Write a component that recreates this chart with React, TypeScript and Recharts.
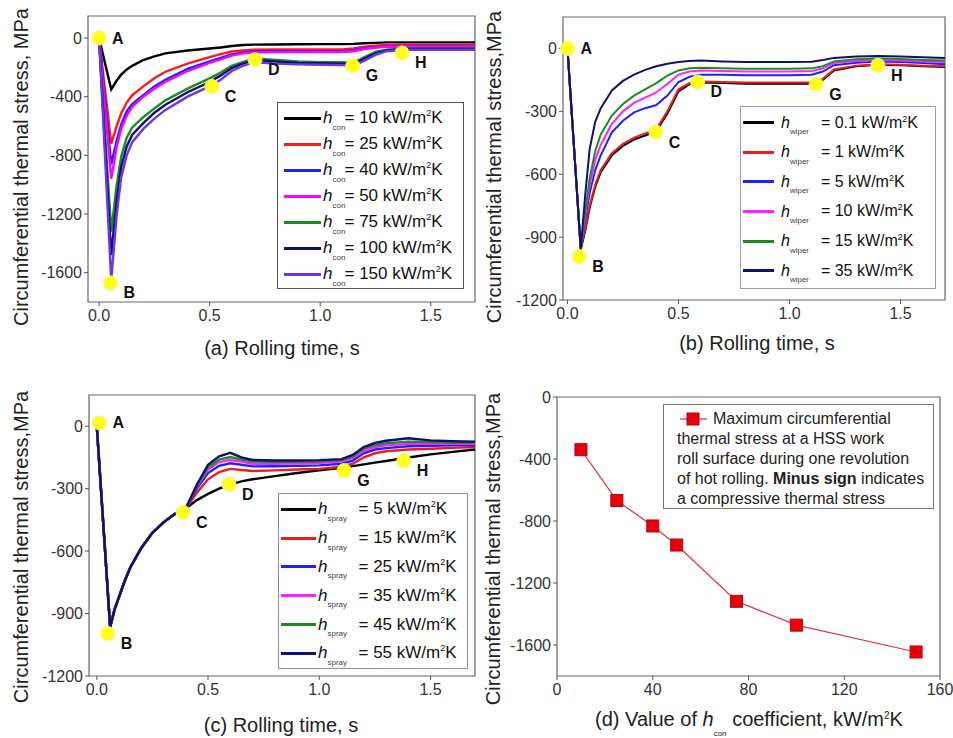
import React from "react";
import { ComposedChart, Line, XAxis, YAxis, ReferenceArea, ReferenceDot } from "recharts";

const FONT = "'Liberation Sans', Arial, Helvetica, sans-serif";

// ---- (a) effect of the convection coefficient h_con ----
const timesA = [0, 0.055, 0.08, 0.1, 0.125, 0.15, 0.2, 0.25, 0.3, 0.4, 0.5, 0.55, 0.6, 0.65, 0.7, 0.8, 0.9, 1.0, 1.1, 1.15, 1.2, 1.25, 1.3, 1.4, 1.5, 1.6, 1.7];
const hConLabels = ["10", "25", "40", "50", "75", "100", "150"];
const con10 = [0, -350, -290, -250, -215, -190, -150, -125, -105, -85, -72, -65, -55, -48, -45, -44, -43, -42, -42, -40, -36, -33, -30, -30, -30, -30, -30];
const con25 = [0, -720, -600, -515, -440, -390, -330, -275, -230, -175, -130, -110, -92, -85, -80, -78, -78, -78, -78, -72, -60, -52, -48, -45, -45, -45, -45];
const con40 = [0, -860, -700, -590, -500, -450, -390, -330, -285, -210, -160, -135, -112, -100, -92, -90, -90, -90, -90, -85, -70, -62, -58, -55, -55, -55, -55];
const con50 = [0, -960, -740, -620, -530, -470, -400, -345, -300, -225, -170, -145, -120, -105, -98, -95, -95, -95, -95, -90, -75, -65, -60, -58, -58, -58, -58];
const con75 = [0, -1320, -1000, -810, -680, -610, -540, -480, -425, -345, -275, -235, -190, -165, -140, -150, -160, -165, -165, -170, -130, -95, -80, -70, -70, -70, -70];
const con100 = [0, -1480, -1100, -880, -740, -660, -580, -510, -455, -370, -300, -255, -205, -175, -150, -160, -170, -172, -175, -180, -140, -105, -85, -75, -75, -75, -75];
const con150 = [0, -1650, -1200, -950, -800, -710, -620, -550, -490, -400, -330, -285, -225, -190, -165, -175, -180, -182, -185, -190, -155, -115, -90, -80, -80, -80, -80];
const pointsA = [
  { name: "A", t: 0, v: 0 },
  { name: "B", t: 0.052, v: -1670 },
  { name: "C", t: 0.51, v: -330 },
  { name: "D", t: 0.705, v: -148 },
  { name: "G", t: 1.147, v: -190 },
  { name: "H", t: 1.37, v: -102 },
];

// ---- (b) effect of the wiper coefficient h_wiper ----
const timesB = [0, 0.06, 0.08, 0.1, 0.125, 0.15, 0.2, 0.25, 0.3, 0.35, 0.4, 0.45, 0.5, 0.55, 0.6, 0.7, 0.8, 0.9, 1.0, 1.1, 1.15, 1.2, 1.3, 1.4, 1.5, 1.6, 1.7];
const hWiperLabels = ["0.1", "1", "5", "10", "15", "35"];
const wiper01 = [0, -960, -870, -760, -660, -590, -510, -465, -435, -415, -395, -310, -205, -170, -162, -165, -168, -168, -168, -168, -150, -105, -85, -78, -80, -85, -88];
const wiper1 = [0, -955, -860, -750, -650, -580, -500, -455, -425, -405, -385, -300, -195, -165, -158, -160, -163, -163, -163, -163, -145, -100, -82, -75, -78, -82, -85];
const wiper5 = [0, -955, -820, -690, -580, -510, -400, -345, -305, -285, -270, -225, -160, -135, -125, -125, -128, -128, -128, -125, -110, -80, -68, -62, -65, -70, -75];
const wiper10 = [0, -955, -800, -650, -530, -460, -360, -300, -260, -235, -210, -170, -125, -110, -105, -108, -110, -110, -110, -108, -95, -70, -60, -55, -58, -62, -65];
const wiper15 = [0, -955, -780, -620, -490, -410, -320, -265, -225, -195, -165, -130, -105, -95, -92, -95, -97, -97, -97, -95, -85, -62, -52, -48, -50, -55, -58];
const wiper35 = [0, -955, -700, -480, -350, -285, -200, -155, -125, -102, -85, -73, -65, -60, -58, -62, -65, -65, -65, -63, -55, -45, -38, -36, -38, -42, -45];
const pointsB = [
  { name: "A", t: 0, v: 0 },
  { name: "B", t: 0.053, v: -993 },
  { name: "C", t: 0.398, v: -399 },
  { name: "D", t: 0.586, v: -160 },
  { name: "G", t: 1.12, v: -171 },
  { name: "H", t: 1.398, v: -80 },
];

// ---- (c) effect of the spray coefficient h_spray ----
const timesC = [0, 0.06, 0.08, 0.1, 0.125, 0.15, 0.2, 0.25, 0.3, 0.35, 0.4, 0.45, 0.5, 0.55, 0.6, 0.65, 0.7, 0.8, 0.9, 1.0, 1.1, 1.15, 1.2, 1.25, 1.3, 1.4, 1.5, 1.6, 1.7];
const hSprayLabels = ["5", "15", "25", "35", "45", "55"];
const spray5 = [0, -965, -880, -820, -745, -680, -585, -512, -462, -422, -395, -355, -325, -300, -280, -265, -255, -240, -225, -212, -200, -192, -183, -175, -167, -150, -135, -123, -112];
const spray15 = [0, -965, -880, -820, -745, -680, -585, -512, -462, -422, -395, -320, -255, -220, -205, -210, -215, -212, -208, -205, -195, -180, -150, -130, -120, -112, -108, -104, -100];
const spray25 = [0, -965, -880, -820, -745, -680, -585, -512, -462, -422, -395, -300, -225, -190, -178, -185, -193, -192, -190, -188, -180, -165, -130, -112, -105, -96, -94, -92, -90];
const spray35 = [0, -965, -880, -820, -745, -680, -585, -512, -462, -422, -395, -290, -208, -172, -162, -170, -180, -180, -178, -176, -170, -152, -118, -100, -92, -85, -85, -84, -84];
const spray45 = [0, -965, -880, -820, -745, -680, -585, -512, -462, -422, -395, -285, -198, -160, -148, -160, -170, -172, -170, -168, -162, -145, -108, -90, -82, -74, -76, -78, -78];
const spray55 = [0, -965, -880, -820, -745, -680, -585, -512, -462, -422, -395, -280, -185, -145, -128, -150, -162, -165, -165, -163, -158, -138, -100, -80, -70, -58, -68, -72, -74];
const pointsC = [
  { name: "A", t: 0.012, v: 16 },
  { name: "B", t: 0.049, v: -996 },
  { name: "C", t: 0.388, v: -414 },
  { name: "D", t: 0.594, v: -279 },
  { name: "G", t: 1.112, v: -213 },
  { name: "H", t: 1.38, v: -166 },
];

// ---- (d) peak compressive stress vs h_con ----
const hConValues = [10, 25, 40, 50, 75, 100, 150];
const maxStress = [-340, -668, -832, -955, -1318, -1472, -1645];

const timeTicks = [0, 0.5, 1.0, 1.5];
const stressTicks1600 = [0, -400, -800, -1200, -1600];
const stressTicks1200 = [0, -300, -600, -900, -1200];
const hConTicks = [0, 40, 80, 120, 160];

const colorsA = ["#000000", "#ff1a1a", "#1f1fff", "#ff00ff", "#1f8a1f", "#101070", "#6a35ee"];
const colorsBC = ["#000000", "#ee1c1c", "#1f1fff", "#ff22ff", "#1f8a1f", "#101070"];

type Marker = { name: string; t: number; v: number };

const pointLabel = (name: string) => (props: any) => {
  const vb = props.viewBox || { x: 0, y: 0, width: 0, height: 0 };
  const cx = vb.x + vb.width / 2;
  const cy = vb.y + vb.height / 2;
  const dy = name === "A" ? 0 : 10;
  return (
    <text x={cx + 13} y={cy + dy} dominantBaseline="central" fontFamily={FONT} fontWeight="bold" fontSize={16} fill="#111">
      {name}
    </text>
  );
};

const tickStyle = { fill: "#333", fontSize: 16, fontFamily: FONT };

function StressPanel(props: {
  left: number;
  top: number;
  width: number;
  height: number;
  margin: { top: number; right: number; left: number; bottom: number };
  yAxisWidth: number;
  xAxisHeight: number;
  times: number[];
  series: number[][];
  colors: string[];
  strokeWidth: number;
  xDomain: [number, number];
  yDomain: [number, number];
  yTicks: number[];
  markers: Marker[];
}) {
  const rows = props.times.map((t, i) => {
    const row: Record<string, number> = { t };
    props.series.forEach((s, k) => {
      row[`s${k}`] = s[i];
    });
    return row;
  });
  return (
    <div style={{ position: "absolute", left: props.left, top: props.top }}>
      <ComposedChart width={props.width} height={props.height} data={rows} margin={props.margin}>
        <XAxis
          dataKey="t"
          type="number"
          domain={props.xDomain}
          ticks={timeTicks}
          tickFormatter={(v: number) => v.toFixed(1)}
          allowDataOverflow
          height={props.xAxisHeight}
          axisLine={false}
          tickLine={{ stroke: "#555" }}
          tickSize={4}
          tickMargin={4}
          tick={tickStyle}
        />
        <YAxis
          type="number"
          domain={props.yDomain}
          ticks={props.yTicks}
          allowDataOverflow
          width={props.yAxisWidth}
          axisLine={false}
          tickLine={{ stroke: "#555" }}
          tickSize={4}
          tickMargin={2}
          tick={tickStyle}
        />
        <ReferenceArea
          x1={props.xDomain[0]}
          x2={props.xDomain[1]}
          y1={props.yDomain[0]}
          y2={props.yDomain[1]}
          fill="none"
          stroke="#666"
          strokeWidth={1.2}
        />
        {props.series.map((_, k) => (
          <Line
            key={k}
            dataKey={`s${k}`}
            type="linear"
            stroke={props.colors[k]}
            strokeWidth={props.strokeWidth}
            dot={false}
            isAnimationActive={false}
          />
        ))}
        {props.markers.map((m) => (
          <ReferenceDot
            key={m.name}
            x={m.t}
            y={m.v}
            r={7}
            fill="#ffff1a"
            stroke="#fbf57a"
            strokeWidth={1}
            ifOverflow="visible"
            label={{ content: pointLabel(m.name) }}
          />
        ))}
      </ComposedChart>
    </div>
  );
}

function YTitle({ x, y, text }: { x: number; y: number; text: string }) {
  return (
    <div
      style={{
        position: "absolute",
        left: x,
        top: y,
        transform: "translate(-50%, -50%) rotate(-90deg)",
        whiteSpace: "nowrap",
        fontSize: 20,
        color: "#222",
        lineHeight: "22px",
      }}
    >
      {text}
    </div>
  );
}

function XTitle({ x, y, children }: { x: number; y: number; children: React.ReactNode }) {
  return (
    <div
      style={{
        position: "absolute",
        left: x,
        top: y,
        transform: "translate(-50%, -50%)",
        whiteSpace: "nowrap",
        fontSize: 20,
        color: "#222",
        lineHeight: "22px",
      }}
    >
      {children}
    </div>
  );
}

function HLegend(props: {
  left: number;
  top: number;
  width: number;
  height: number;
  border: string;
  rowTop: number;
  rowHeight: number;
  padLeft: number;
  lineWidth: number;
  gap: number;
  sub: string;
  subWidth: number;
  fontSize: number;
  labels: string[];
  colors: string[];
}) {
  return (
    <div
      style={{
        position: "absolute",
        left: props.left,
        top: props.top,
        width: props.width,
        height: props.height,
        border: `1px solid ${props.border}`,
        background: "#fff",
        boxSizing: "border-box",
        fontSize: props.fontSize,
        color: "#111",
      }}
    >
      {props.labels.map((lab, i) => (
        <div
          key={lab}
          style={{
            position: "absolute",
            left: props.padLeft,
            top: props.rowTop + i * props.rowHeight,
            height: props.rowHeight,
            display: "flex",
            alignItems: "center",
            whiteSpace: "nowrap",
          }}
        >
          <span style={{ display: "inline-block", width: props.lineWidth, height: 3, background: props.colors[i] }} />
          <span style={{ marginLeft: props.gap, fontStyle: "italic" }}>h</span>
          <span
            style={{
              display: "inline-block",
              width: props.subWidth,
              fontSize: 8,
              position: "relative",
              top: 9,
              color: "#444",
            }}
          >
            {props.sub}
          </span>
          <span>
            = {lab} kW/m<sup style={{ fontSize: 9 }}>2</sup>K
          </span>
        </div>
      ))}
    </div>
  );
}

export default function App() {
  const squareDot = (p: any) => (
    <rect key={`sq-${p.index}`} x={p.cx - 6} y={p.cy - 6} width={12} height={12} fill="#e8000b" stroke="#b80008" strokeWidth={1} />
  );
  const rowsD = hConValues.map((h, i) => ({ h, s: maxStress[i] }));

  return (
    <div
      style={{
        position: "absolute",
        left: 0,
        top: 0,
        width: 953,
        height: 738,
        background: "#fff",
        fontFamily: FONT,
        overflow: "hidden",
      }}
    >
      {/* (a) */}
      <StressPanel
        left={0}
        top={0}
        width={480}
        height={370}
        margin={{ top: 16, right: 5, left: 0, bottom: 0 }}
        yAxisWidth={88}
        xAxisHeight={68}
        times={timesA}
        series={[con10, con25, con40, con50, con75, con100, con150]}
        colors={colorsA}
        strokeWidth={2.4}
        xDomain={[-0.05, 1.7]}
        yDomain={[-1800, 150]}
        yTicks={stressTicks1600}
        markers={pointsA}
      />
      <YTitle x={21} y={167} text="Circumferential thermal stress, MPa" />
      <XTitle x={282} y={348}>(a) Rolling time, s</XTitle>
      <HLegend
        left={277}
        top={102}
        width={187}
        height={187}
        border="#555"
        rowTop={2}
        rowHeight={26}
        padLeft={6}
        lineWidth={37}
        gap={2}
        sub="con"
        subWidth={12}
        fontSize={17}
        labels={hConLabels}
        colors={colorsA}
      />

      {/* (b) */}
      <StressPanel
        left={476}
        top={0}
        width={477}
        height={370}
        margin={{ top: 17, right: 8, left: 0, bottom: 0 }}
        yAxisWidth={87}
        xAxisHeight={70}
        times={timesB}
        series={[wiper01, wiper1, wiper5, wiper10, wiper15, wiper35]}
        colors={colorsBC}
        strokeWidth={2}
        xDomain={[-0.02, 1.7]}
        yDomain={[-1200, 150]}
        yTicks={stressTicks1200}
        markers={pointsB}
      />
      <YTitle x={494} y={167} text="Circumferential thermal stress,MPa" />
      <XTitle x={757} y={343}>(b) Rolling time, s</XTitle>
      <HLegend
        left={740}
        top={106}
        width={196}
        height={183}
        border="#9a9ad8"
        rowTop={1}
        rowHeight={29.6}
        padLeft={2}
        lineWidth={31}
        gap={7}
        sub="wiper"
        subWidth={31}
        fontSize={16}
        labels={hWiperLabels}
        colors={colorsBC}
      />

      {/* (c) */}
      <StressPanel
        left={0}
        top={370}
        width={480}
        height={368}
        margin={{ top: 25, right: 5, left: 0, bottom: 0 }}
        yAxisWidth={89}
        xAxisHeight={62}
        times={timesC}
        series={[spray5, spray15, spray25, spray35, spray45, spray55]}
        colors={colorsBC}
        strokeWidth={2.4}
        xDomain={[-0.035, 1.7]}
        yDomain={[-1200, 150]}
        yTicks={stressTicks1200}
        markers={pointsC}
      />
      <YTitle x={21} y={547} text="Circumferential thermal stress,MPa" />
      <XTitle x={281} y={725}>(c) Rolling time, s</XTitle>
      <HLegend
        left={278}
        top={493}
        width={190}
        height={176}
        border="#8a8acc"
        rowTop={1}
        rowHeight={28.8}
        padLeft={2}
        lineWidth={35}
        gap={2}
        sub="spray"
        subWidth={31}
        fontSize={17}
        labels={hSprayLabels}
        colors={colorsBC}
      />

      {/* (d) */}
      <div style={{ position: "absolute", left: 476, top: 370 }}>
        <ComposedChart width={477} height={368} data={rowsD} margin={{ top: 27, right: 13, left: 0, bottom: 0 }}>
          <XAxis
            dataKey="h"
            type="number"
            domain={[0, 160]}
            ticks={hConTicks}
            height={62}
            axisLine={false}
            tickLine={{ stroke: "#555" }}
            tickSize={4}
            tickMargin={4}
            tick={tickStyle}
          />
          <YAxis
            type="number"
            domain={[-1800, 0]}
            ticks={stressTicks1600}
            width={81}
            axisLine={false}
            tickLine={{ stroke: "#555" }}
            tickSize={4}
            tickMargin={2}
            tick={tickStyle}
          />
          <ReferenceArea x1={0} x2={160} y1={-1800} y2={0} fill="none" stroke="#666" strokeWidth={1.2} />
          <Line
            dataKey="s"
            type="linear"
            stroke="#e8303a"
            strokeWidth={1.2}
            dot={squareDot}
            isAnimationActive={false}
          />
        </ComposedChart>
      </div>
      <YTitle x={493} y={549} text="Circumferential thermal stress,MPa" />
      <XTitle x={749} y={720}>
        (d) Value of <i>h</i>
        <span style={{ fontSize: 8, position: "relative", top: 9 }}>con</span> coefficient, kW/m
        <sup style={{ fontSize: 10 }}>2</sup>K
      </XTitle>
      <div
        style={{
          position: "absolute",
          left: 663,
          top: 404,
          width: 271,
          height: 105,
          border: "1px solid #777",
          boxSizing: "border-box",
          background: "#fff",
          fontSize: 16,
          lineHeight: "20px",
          color: "#222",
          padding: "4px 0 0 13px",
          whiteSpace: "nowrap",
        }}
      >
        <div style={{ display: "flex", alignItems: "center" }}>
          <svg width={36} height={20} style={{ flex: "none" }}>
            <line x1={3} y1={10} x2={30} y2={10} stroke="#e8303a" strokeWidth={1.2} />
            <rect x={10} y={4} width={12} height={12} fill="#e8000b" stroke="#b80008" />
          </svg>
          <span>Maximum circumferential</span>
        </div>
        <div>thermal stress at a HSS work</div>
        <div>roll surface during one revolution</div>
        <div>
          of hot rolling. <b>Minus sign</b> indicates
        </div>
        <div>a compressive thermal stress</div>
      </div>
    </div>
  );
}
